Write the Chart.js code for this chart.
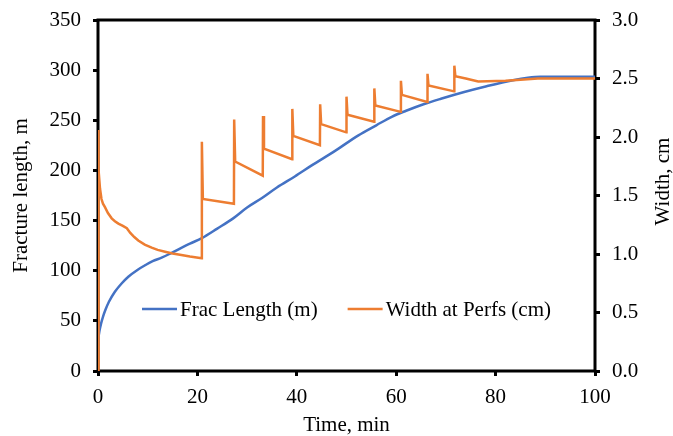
<!DOCTYPE html>
<html>
<head>
<meta charset="utf-8">
<script src="https://cdn.jsdelivr.net/npm/chart.js@4.4.0/dist/chart.umd.min.js"></script>
<style>
    html, body { margin: 0; padding: 0; background: #fff; }
</style>
</head>
<body>
<canvas id="fracChart" width="673" height="436"></canvas>
<script>
// Frac length (m) vs time (min)
const lengthTime = [0, 0.1, 0.3, 0.6, 1, 1.5, 2.2, 3.4, 4.7, 6.1, 8, 9.5, 11, 12.8, 14.5, 16.2, 18.5, 20.9,
    24, 27.2, 30, 33, 36, 39.6, 43, 47.7, 52.4, 56, 59.1, 62, 65.5, 69, 73.5, 78.2, 83.5, 86.5, 89, 100];
const lengthValues = [25, 33, 40, 47, 54, 61, 69, 79, 87, 94, 101, 105.5, 109.5, 113, 117, 121.3, 127, 132.5,
    142, 152.2, 163, 172.5, 183, 194, 205, 219.5, 235, 245, 253.5, 259.5, 266, 271.5, 278, 284, 290, 292.5, 293.5, 293.5];

// Width at perfs (cm) vs time (min)
const widthTime = [0, 0.03, 0.1, 0.2, 0.4, 0.7, 1, 1.4, 2, 2.75, 3.4, 4.1, 5, 5.8, 6.5, 7.3, 8.1, 9.4, 10.8,
    12, 13.5, 15, 16.2, 18.5,
    20.85, 20.9, 21.1,
    27.35, 27.4, 27.6,
    33.15, 33.2, 33.4,
    39.05, 39.1, 39.3,
    44.65, 44.7, 44.9,
    49.95, 50.0, 50.2,
    55.55, 55.6, 55.8,
    60.9, 60.95, 61.15,
    66.25, 66.3, 66.5,
    71.65, 71.7, 71.9,
    74, 76.5, 82, 85, 88.5, 100];
const widthValues = [0, 2.06, 1.88, 1.72, 1.56, 1.47, 1.43, 1.40, 1.35, 1.305, 1.28, 1.26, 1.24, 1.22, 1.18, 1.145, 1.115, 1.08, 1.055,
    1.035, 1.02, 1.005, 0.995, 0.978,
    0.963, 1.96, 1.47,
    1.43, 2.15, 1.79,
    1.67, 2.18, 1.90,
    1.81, 2.24, 2.01,
    1.93, 2.28, 2.11,
    2.04, 2.345, 2.19,
    2.13, 2.415, 2.27,
    2.215, 2.48, 2.36,
    2.30, 2.54, 2.44,
    2.39, 2.61, 2.52,
    2.50, 2.475, 2.48, 2.49, 2.50, 2.50];

const xTicks = [0, 20, 40, 60, 80, 100];
const leftTicks = [0, 50, 100, 150, 200, 250, 300, 350];
const rightTicks = [0, 0.5, 1.0, 1.5, 2.0, 2.5, 3.0];

const seriesNames = ['Frac Length (m)', 'Width at Perfs (cm)'];
const seriesColors = ['#4472C4', '#ED7D31'];

const FONT = "'Liberation Serif', 'Times New Roman', serif";

function toPoints(xs, ys) {
    return xs.map((x, i) => ({ x: x, y: ys[i] }));
}

function fixedTicks(values) {
    return function (scale) {
        scale.ticks = values.map(v => ({ value: v }));
    };
}

// Fixed axis widths so the plot area sits where it does in the original
function fixedWidth(w) {
    return function (scale) {
        scale.width = w;
        scale.paddingTop = 0;
        scale.paddingBottom = 0;
    };
}

// Box round the plot area, drawn under the lines
const framePlugin = {
    id: 'frame',
    beforeDatasetsDraw(chart) {
        const { ctx, chartArea: a } = chart;
        ctx.save();
        ctx.strokeStyle = '#000';
        ctx.lineWidth = 3;
        ctx.strokeRect(a.left, a.top, a.right - a.left, a.bottom - a.top);
        ctx.restore();
    }
};

// Legend inside the plot, plus the right axis title reading upwards
const legendPlugin = {
    id: 'innerLegend',
    afterDraw(chart) {
        const { ctx, chartArea: a } = chart;
        ctx.save();
        ctx.font = '21px ' + FONT;
        ctx.textBaseline = 'middle';
        ctx.fillStyle = '#000';
        const lineLen = 35, gap = 3, spacing = 30;
        const widths = seriesNames.map(n => ctx.measureText(n).width);
        const total = widths.reduce((s, w) => s + lineLen + gap + w, 0) + spacing;
        let x = (a.left + a.right) / 2 - total / 2;
        const y = a.bottom - 62;
        seriesNames.forEach((name, i) => {
            ctx.strokeStyle = seriesColors[i];
            ctx.lineWidth = 2.5;
            ctx.beginPath();
            ctx.moveTo(x, y);
            ctx.lineTo(x + lineLen, y);
            ctx.stroke();
            ctx.fillText(name, x + lineLen + gap, y + 1);
            x += lineLen + gap + widths[i] + spacing;
        });

        ctx.translate(a.right + 68, (a.top + a.bottom) / 2 - 14);
        ctx.rotate(-Math.PI / 2);
        ctx.textAlign = 'center';
        ctx.fillText('Width, cm', 0, 0);
        ctx.restore();
    }
};

const tickGrid = {
    drawOnChartArea: false,
    drawTicks: true,
    tickLength: 5,
    tickWidth: 3,
    tickColor: '#000'
};

new Chart(document.getElementById('fracChart'), {
    type: 'line',
    data: {
        datasets: [{
            label: seriesNames[0],
            data: toPoints(lengthTime, lengthValues),
            borderColor: seriesColors[0],
            borderWidth: 2.5,
            pointRadius: 0,
            cubicInterpolationMode: 'monotone',
            yAxisID: 'y',
            order: 1
        }, {
            label: seriesNames[1],
            data: toPoints(widthTime, widthValues),
            borderColor: seriesColors[1],
            borderWidth: 2.5,
            pointRadius: 0,
            tension: 0,
            yAxisID: 'y2',
            order: 0
        }]
    },
    options: {
        responsive: false,
        animation: false,
        devicePixelRatio: 1,
        layout: { padding: { top: 20, left: 0, right: 0, bottom: 0 } },
        plugins: {
            legend: { display: false },
            tooltip: { enabled: false }
        },
        scales: {
            x: {
                type: 'linear',
                position: 'bottom',
                min: 0,
                max: 100,
                afterBuildTicks: fixedTicks(xTicks),
                afterFit(scale) { scale.height = 65; },
                grid: tickGrid,
                border: { display: false },
                ticks: {
                    color: '#000',
                    padding: 9,
                    maxRotation: 0,
                    font: { family: FONT, size: 21 }
                },
                title: {
                    display: true,
                    text: 'Time, min',
                    color: '#000',
                    padding: { top: 0, bottom: 0.5 },
                    font: { family: FONT, size: 21, lineHeight: 1.0 }
                }
            },
            y: {
                type: 'linear',
                position: 'left',
                min: 0,
                max: 350,
                afterBuildTicks: fixedTicks(leftTicks),
                afterFit: fixedWidth(98),
                grid: tickGrid,
                border: { display: false },
                ticks: {
                    color: '#000',
                    padding: 12,
                    font: { family: FONT, size: 21 }
                },
                title: {
                    display: true,
                    text: 'Fracture length, m',
                    color: '#000',
                    padding: { top: 10.5, bottom: 0 },
                    font: { family: FONT, size: 21, lineHeight: 1.0 }
                }
            },
            y2: {
                type: 'linear',
                position: 'right',
                min: 0,
                max: 3,
                afterBuildTicks: fixedTicks(rightTicks),
                afterFit: fixedWidth(78),
                grid: tickGrid,
                border: { display: false },
                ticks: {
                    color: '#000',
                    padding: 12,
                    font: { family: FONT, size: 21 },
                    callback: v => v.toFixed(1)
                }
            }
        }
    },
    plugins: [framePlugin, legendPlugin]
});
</script>
</body>
</html>
